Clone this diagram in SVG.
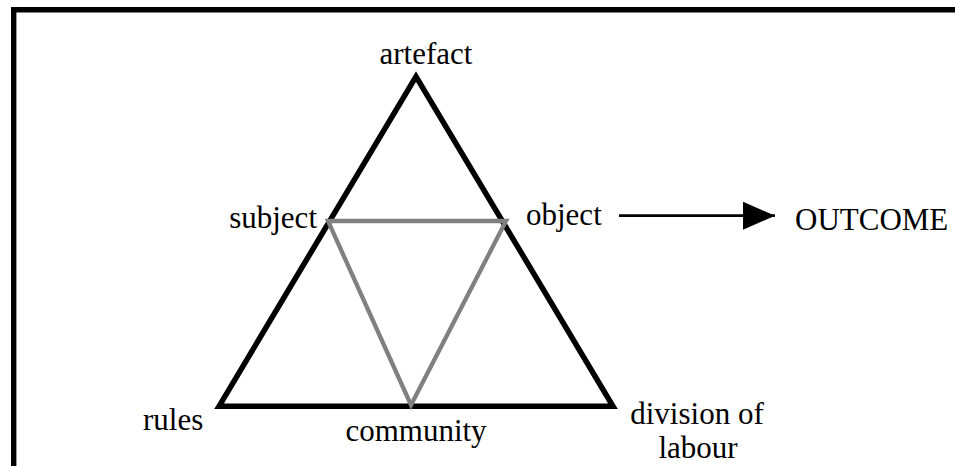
<svg xmlns="http://www.w3.org/2000/svg" width="955" height="466" viewBox="0 0 955 466">
<defs>
<style>
text{font-family:'Liberation Serif','Times New Roman',Times,serif;font-size:31px;fill:#000}
.mid{text-anchor:middle}
.end{text-anchor:end}
.outer{fill:none;stroke:#000;stroke-width:5.5;stroke-linejoin:miter}
.inner{fill:none;stroke:#808080;stroke-width:4.3;stroke-linejoin:miter}
.arrow{fill:none;stroke:#000;stroke-width:2.8}
</style>
<marker id="ah" markerUnits="userSpaceOnUse" markerWidth="34" markerHeight="30" refX="32" refY="14" orient="auto">
<path d="M0,0 L32,14 L0,28 Z" fill="#000"/>
</marker>
</defs>
<rect width="955" height="466" fill="#fff"/>
<path id="frame" d="M13.7,470 V9.8 H960" fill="none" stroke="#000" stroke-width="5.4"/>
<g id="connectors">
<polygon class="outer" points="219,406.3 416,76.5 613,406.3"/>
<polygon class="inner" points="328,221 506,221 411,405"/>
<line class="arrow" x1="619" y1="215.7" x2="775" y2="215.7" marker-end="url(#ah)"/>
</g>
<g id="artefact"><text class="mid" x="426" y="64">artefact</text></g>
<g id="subject"><text class="end" x="317" y="228">subject</text></g>
<g id="object"><text x="526" y="225">object</text></g>
<g id="outcome"><text x="795" y="230">OUTCOME</text></g>
<g id="rules"><text x="143" y="430">rules</text></g>
<g id="community"><text class="mid" x="416" y="441">community</text></g>
<g id="division"><text class="mid" x="697" y="424">division of</text><text class="mid" x="698" y="458" font-size="30">labour</text></g>
</svg>
